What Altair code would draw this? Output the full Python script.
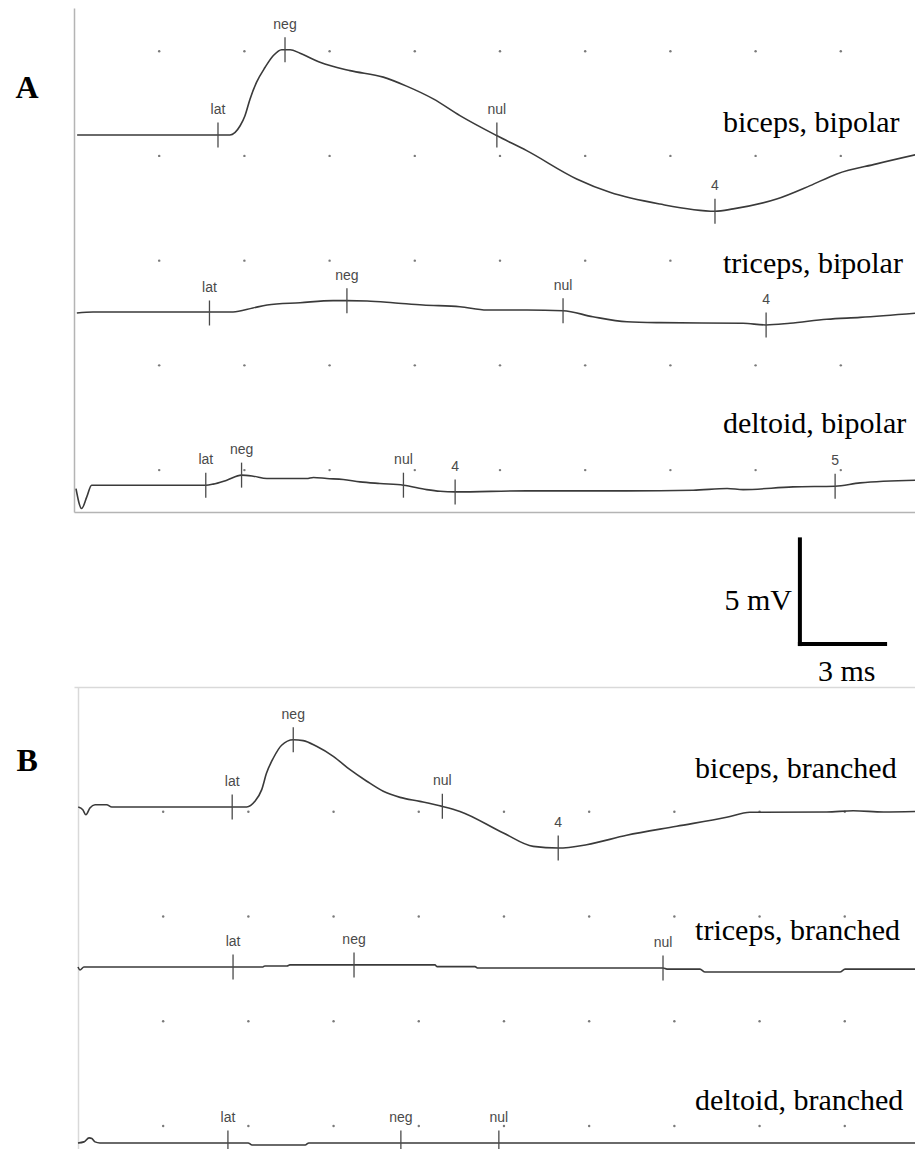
import altair as alt
import pandas as pd

# ---------------- Panel A : bipolar recordings (time in ms, amplitude in mV) ----------------
A_BICEPS_T = [0.11, 5.49, 5.85, 6.02, 6.20, 6.43, 6.73, 7.02, 7.31, 7.61, 7.96, 8.66, 9.72, 10.89, 11.71,
              12.65, 13.59, 14.88, 15.94, 17.70, 18.87, 20.63, 22.57, 23.21, 24.74, 25.92, 26.86, 28.26, 29.82]
A_BICEPS_MV = [0, 0, 0.44, 0.92, 1.72, 2.52, 3.23, 3.79, 4.07, 4.07, 3.90, 3.47, 3.07, 2.76, 2.33,
               1.72, 0.92, -0.03, -0.75, -2.10, -2.74, -3.30, -3.64, -3.53, -3.06, -2.42, -1.86, -1.38, -0.89]

A_TRICEPS_T = [0.10, 0.67, 5.60, 6.30, 6.80, 7.96, 9.12, 9.61, 10.32, 11.23, 12.29, 13.59, 14.54, 15.95,
               17.22, 18.27, 19.47, 20.63, 23.56, 24.37, 25.21, 26.51, 27.68, 29.82]
A_TRICEPS_MV = [0, 0.05, 0.05, 0.24, 0.38, 0.49, 0.59, 0.59, 0.57, 0.49, 0.38, 0.30, 0.14, 0.14,
                0.11, -0.18, -0.42, -0.46, -0.49, -0.57, -0.49, -0.30, -0.21, 0.01]

A_DELTOID_T = [0.07, 0.27, 0.45, 0.62, 4.64, 4.90, 5.38, 5.90, 6.31, 6.79, 8.19, 8.43, 8.90, 9.48, 10.07,
               10.77, 11.60, 12.42, 12.89, 13.42, 15.95, 19.47, 21.80, 23.00, 23.56, 25.32, 26.80, 27.68, 29.82]
A_DELTOID_MV = [-0.16, -1.11, -0.56, 0, 0, 0.05, 0.24, 0.48, 0.43, 0.32, 0.32, 0.37, 0.32, 0.27, 0.16,
                0.08, 0, -0.21, -0.29, -0.32, -0.27, -0.27, -0.24, -0.16, -0.21, -0.08, -0.05, 0.11, 0.24]

A_NAMES = ["biceps, bipolar", "triceps, bipolar", "deltoid, bipolar"]
A_BASELINES = [16.0, 7.50, -0.72]

A_BICEPS_MARK = ["lat", "neg", "nul", "4"]
A_BICEPS_MARK_T = [5.07, 7.43, 14.89, 22.57]
A_BICEPS_MARK_MV = [0, 4.07, 0, -3.64]
A_TRICEPS_MARK = ["lat", "neg", "nul", "4"]
A_TRICEPS_MARK_T = [4.77, 9.61, 17.22, 24.37]
A_TRICEPS_MARK_MV = [0, 0.59, 0.11, -0.57]
A_DELTOID_MARK = ["lat", "neg", "nul", "4", "5"]
A_DELTOID_MARK_T = [4.64, 5.90, 11.60, 13.42, 26.80]
A_DELTOID_MARK_MV = [0, 0.48, 0, -0.32, -0.05]

A_NAME_T = [22.85, 22.85, 22.85]
A_NAME_MV = [16.14, 9.41, 1.77]

# ---------------- Panel B : branched recordings ----------------
B_BICEPS_T = [0.01, 0.17, 0.28, 0.42, 0.60, 1.01, 1.19, 5.94, 6.23, 6.47, 6.64, 6.88, 7.17, 7.58, 7.93, 8.40,
              8.99, 9.58, 10.17, 10.75, 11.34, 12.04, 12.83, 13.45, 14.98, 16.03, 16.91, 17.91, 19.32, 21.08,
              22.84, 23.66, 26.36, 27.30, 28.36, 29.68]
B_BICEPS_MV = [0, -0.13, -0.37, -0.05, 0.11, 0.11, 0, 0, 0.27, 0.83, 1.62, 2.34, 2.95, 3.21, 3.17, 2.90,
               2.42, 1.78, 1.23, 0.75, 0.46, 0.27, 0.03, -0.21, -1.24, -1.88, -1.96, -1.80, -1.35, -0.92,
               -0.49, -0.25, -0.24, -0.18, -0.24, -0.21]

B_TRICEPS_T = [0, 0.07, 0.21, 6.51, 6.58, 7.36, 7.46, 12.57, 12.64, 13.98, 14.08, 20.60, 20.74, 21.90,
               22.08, 26.83, 27.01, 29.68]
B_TRICEPS_MV = [0, -0.14, 0, 0, 0.05, 0.05, 0.10, 0.10, 0.02, 0.02, -0.05, -0.05, -0.10, -0.10,
                -0.24, -0.24, -0.10, -0.10]

B_DELTOID_T = [0, 0.21, 0.39, 0.49, 0.60, 0.77, 5.99, 6.13, 8.00, 8.13, 29.68]
B_DELTOID_MV = [0, 0.05, 0.24, 0.21, 0.05, 0, 0, -0.10, -0.10, 0, 0]

B_NAMES = ["biceps, branched", "triceps, branched", "deltoid, branched"]
B_BASELINES = [15.23, 7.59, -0.81]

B_BICEPS_MARK = ["lat", "neg", "nul", "4"]
B_BICEPS_MARK_T = [5.43, 7.58, 12.83, 16.91]
B_BICEPS_MARK_MV = [0, 3.21, 0.03, -1.96]
B_TRICEPS_MARK = ["lat", "neg", "nul"]
B_TRICEPS_MARK_T = [5.46, 9.72, 20.60]
B_TRICEPS_MARK_MV = [0, 0.10, -0.05]
B_DELTOID_MARK = ["lat", "neg", "nul"]
B_DELTOID_MARK_T = [5.28, 11.37, 14.82]
B_DELTOID_MARK_MV = [0, 0, 0]

B_NAME_T = [21.73, 21.73, 21.73]
B_NAME_MV = [16.62, 8.88, 0.76]

# ---------------- grid (3 ms x 5 mV divisions) and calibration bar ----------------
GRID_MS = [3, 6, 9, 12, 15, 18, 21, 24, 27]
A_GRID_MV = [0, 5, 10, 15, 20]
B_GRID_MV = [0, 5, 10, 15]

SCALE_MS = 3
SCALE_MV = 5
SCALE_ORIGIN_MS = 25.56
SCALE_ORIGIN_MV = 2.05

PX_PER_MS = 28.4
PANEL_W = 841
A_H = 504
M_H = 175
B_H = 462

TRACE_COLOR = "#3a3a3a"
MARK_COLOR = "#4a4a4a"
DOT_COLOR = "#7a7a7a"
SERIF = "Liberation Serif"
SANS = "Liberation Sans"

A_XMAX = round(PANEL_W / PX_PER_MS, 3)
B_XMIN = -0.14


def traces(names, baselines, ts, mvs):
    frames = []
    for n, b, t, v in zip(names, baselines, ts, mvs):
        frames.append(pd.DataFrame({"t": t, "mv": [b + x for x in v], "trace": n}))
    return pd.concat(frames, ignore_index=True)


def markers(names, baselines, labs, ts, mvs):
    frames = []
    for n, b, l, t, v in zip(names, baselines, labs, ts, mvs):
        frames.append(pd.DataFrame({"label": l, "t": t, "mv": [b + x for x in v], "trace": n}))
    return pd.concat(frames, ignore_index=True)


def dots(ms, mvs):
    return pd.DataFrame([{"t": t, "mv": v} for v in mvs for t in ms])


def panel(line_df, mark_df, name_df, dot_df, xdom, ydom, height, letter, x_orient,
          border, y_offset, title_x, title_y):
    xs = alt.Scale(domain=xdom, nice=False, zero=False)
    ys = alt.Scale(domain=ydom, nice=False, zero=False)
    xax = alt.Axis(orient=x_orient, domain=True, domainColor=border, domainWidth=1.5,
                   ticks=False, labels=False, grid=False, title=None)
    yax = alt.Axis(orient="left", domain=True, domainColor=border, domainWidth=1.5,
                   ticks=False, labels=False, grid=False, offset=y_offset,
                   title=letter, titleAngle=0, titleFont=SERIF, titleFontSize=32,
                   titleFontWeight="bold", titleColor="black", titleAlign="left",
                   titleBaseline="alphabetic", titleX=title_x, titleY=title_y)
    X = alt.X("t:Q", scale=xs, axis=xax)
    Y = alt.Y("mv:Q", scale=ys, axis=yax)

    dot_layer = alt.Chart(dot_df).mark_circle(size=6, color=DOT_COLOR, opacity=1).encode(x=X, y=Y)
    line_layer = alt.Chart(line_df).mark_line(color=TRACE_COLOR, strokeWidth=1.6, clip=True,
                                              interpolate="monotone").encode(x=X, y=Y, detail="trace:N")
    tick_layer = alt.Chart(mark_df).mark_tick(orient="vertical", size=25, thickness=1.3, clip=True,
                                              color=MARK_COLOR, opacity=1).encode(x=X, y=Y)
    tick_text = alt.Chart(mark_df).mark_text(dy=-25, font=SANS, fontSize=14, color=MARK_COLOR,
                                             align="center", baseline="middle").encode(
        x=X, y=Y, text="label:N")
    name_text = alt.Chart(name_df).mark_text(font=SERIF, fontSize=30, color="black",
                                             align="left", baseline="alphabetic").encode(
        x=X, y=Y, text="name:N")
    return alt.layer(dot_layer, line_layer, tick_layer, tick_text, name_text).properties(
        width=PANEL_W, height=height)


# ---- build panel A ----
a_lines = traces(A_NAMES, A_BASELINES, [A_BICEPS_T, A_TRICEPS_T, A_DELTOID_T],
                 [A_BICEPS_MV, A_TRICEPS_MV, A_DELTOID_MV])
a_marks = markers(A_NAMES, A_BASELINES, [A_BICEPS_MARK, A_TRICEPS_MARK, A_DELTOID_MARK],
                  [A_BICEPS_MARK_T, A_TRICEPS_MARK_T, A_DELTOID_MARK_T],
                  [A_BICEPS_MARK_MV, A_TRICEPS_MARK_MV, A_DELTOID_MARK_MV])
a_names = pd.DataFrame({"name": A_NAMES, "t": A_NAME_T, "mv": A_NAME_MV})
chart_a = panel(a_lines, a_marks, a_names, dots(GRID_MS, A_GRID_MV),
                [0, A_XMAX], [-2.0, 22.06], A_H, "A", "bottom", "#b4b4b4", 0, -59, 89)

# ---- calibration bar ----
bar_df = pd.DataFrame({
    "t": [SCALE_ORIGIN_MS, SCALE_ORIGIN_MS],
    "t2": [SCALE_ORIGIN_MS, SCALE_ORIGIN_MS + SCALE_MS],
    "mv": [SCALE_ORIGIN_MV, SCALE_ORIGIN_MV],
    "mv2": [SCALE_ORIGIN_MV + SCALE_MV, SCALE_ORIGIN_MV],
})
bar_lab = pd.DataFrame({
    "text": [f"{SCALE_MV} mV", f"{SCALE_MS} ms"],
    "t": [SCALE_ORIGIN_MS, SCALE_ORIGIN_MS + SCALE_MS / 2 + 0.15],
    "mv": [SCALE_ORIGIN_MV + 1.63, SCALE_ORIGIN_MV - 1.76],
})
mxs = alt.Scale(domain=[0, A_XMAX], nice=False, zero=False)
mys = alt.Scale(domain=[0, M_H / 20.94], nice=False, zero=False)
bar = alt.Chart(bar_df).mark_rule(color="black", strokeWidth=4, strokeCap="square").encode(
    x=alt.X("t:Q", scale=mxs, axis=None), x2="t2:Q",
    y=alt.Y("mv:Q", scale=mys, axis=None), y2="mv2:Q")
lab_r = alt.Chart(bar_lab.iloc[[0]]).mark_text(font=SERIF, fontSize=30, color="black", align="right",
                                                baseline="alphabetic", dx=-8).encode(
    x=alt.X("t:Q", scale=mxs, axis=None), y=alt.Y("mv:Q", scale=mys, axis=None), text="text:N")
lab_c = alt.Chart(bar_lab.iloc[[1]]).mark_text(font=SERIF, fontSize=30, color="black", align="center",
                                                baseline="alphabetic").encode(
    x=alt.X("t:Q", scale=mxs, axis=None), y=alt.Y("mv:Q", scale=mys, axis=None), text="text:N")
chart_m = alt.layer(bar, lab_r, lab_c).properties(width=PANEL_W, height=M_H)

# ---- build panel B ----
b_lines = traces(B_NAMES, B_BASELINES, [B_BICEPS_T, B_TRICEPS_T, B_DELTOID_T],
                 [B_BICEPS_MV, B_TRICEPS_MV, B_DELTOID_MV])
b_marks = markers(B_NAMES, B_BASELINES, [B_BICEPS_MARK, B_TRICEPS_MARK, B_DELTOID_MARK],
                  [B_BICEPS_MARK_T, B_TRICEPS_MARK_T, B_DELTOID_MARK_T],
                  [B_BICEPS_MARK_MV, B_TRICEPS_MARK_MV, B_DELTOID_MARK_MV])
b_names = pd.DataFrame({"name": B_NAMES, "t": B_NAME_T, "mv": B_NAME_MV})
chart_b = panel(b_lines, b_marks, b_names, dots(GRID_MS, B_GRID_MV),
                [B_XMIN, round(B_XMIN + PANEL_W / PX_PER_MS, 3)], [-1.10, 20.96], B_H, "B", "top",
                "#d9d9d9", -4, -62, 83)

chart = alt.vconcat(chart_a, chart_m, chart_b, spacing=0).properties(
    padding={"left": 7, "top": 0, "right": 0, "bottom": 0},
    background="white",
).configure_view(stroke=None).resolve_scale(x="independent", y="independent")

chart.save("out.html", embed_options={"renderer": "svg", "actions": False})
